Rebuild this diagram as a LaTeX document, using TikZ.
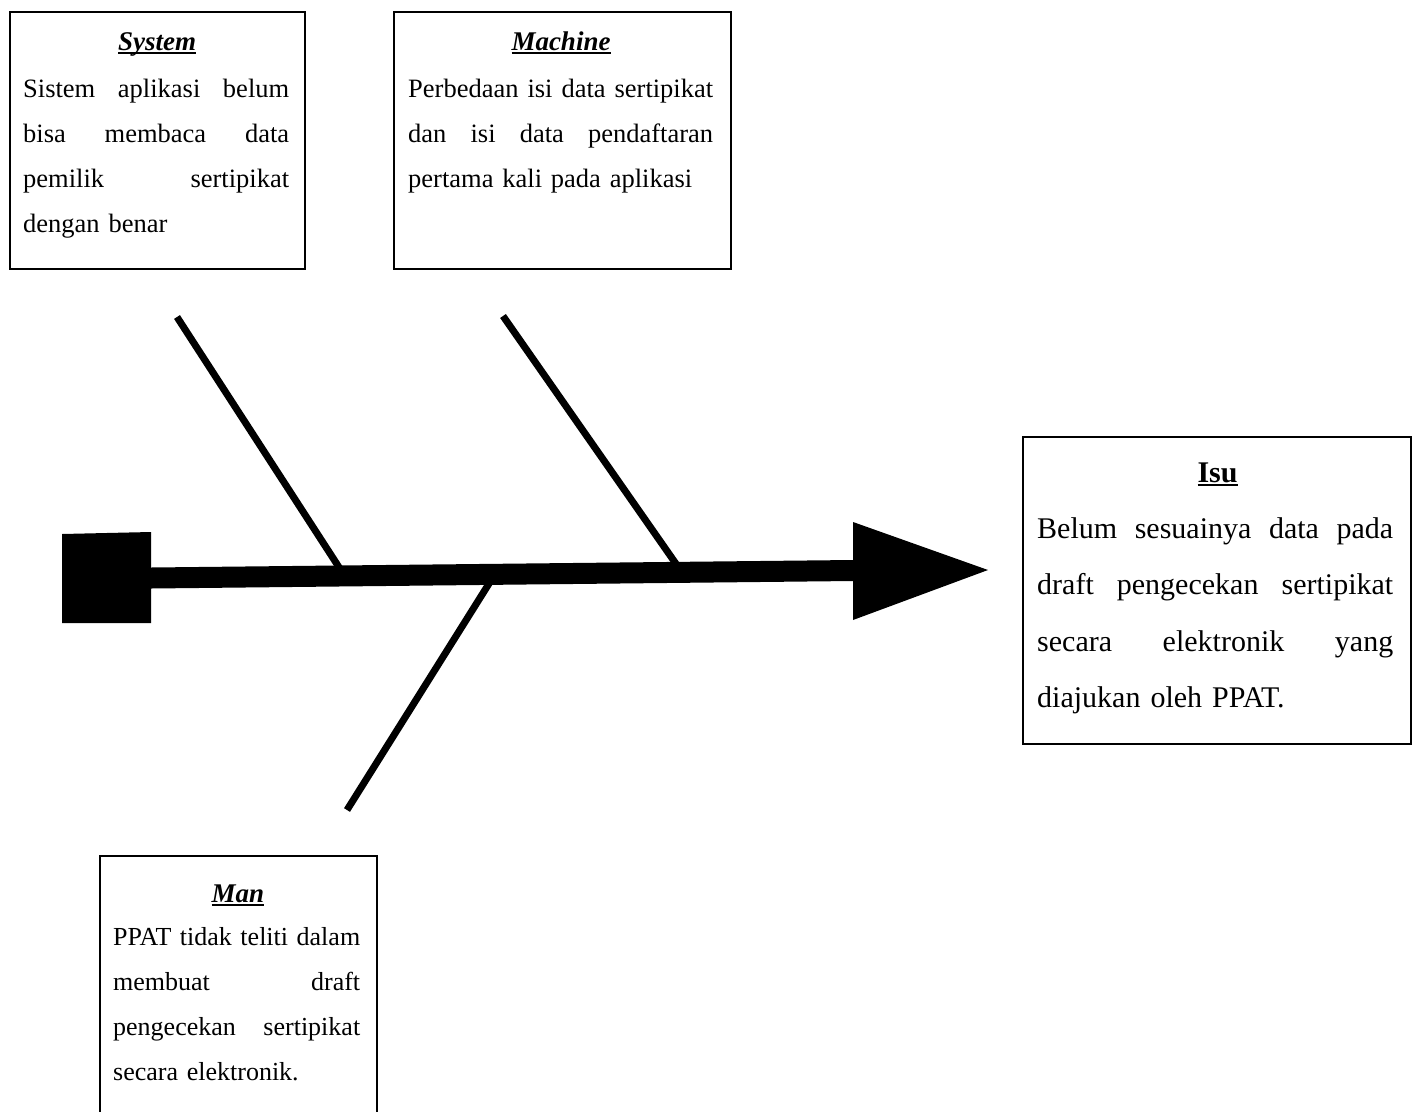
\documentclass[tikz,border=0pt]{standalone}
\usepackage{fontspec}
\setmainfont{Liberation Serif}
\newcommand\myul[1]{\setbox0\hbox{#1}\rlap{\rule[-3.5pt]{\wd0}{1.8pt}}\box0}
\newcommand\jl[2]{\leavevmode\hbox to #1{\spaceskip=0.25em plus 1fil minus 0.1em\relax #2}}
\tikzset{
  box/.style={draw, line width=2.3pt, rectangle, inner sep=0pt, anchor=north west},
  body/.style={anchor=base west, inner sep=0pt, align=left, font=\fontsize{26.5}{45}\selectfont},
  ttl/.style={anchor=base, inner sep=0pt, font=\fontsize{27}{32}\selectfont\bfseries\itshape},
  bone/.style={line width=7pt},
}
\begin{document}
\begin{tikzpicture}[x=1pt,y=-1pt]
\useasboundingbox (0,0) rectangle (1415,1111);

% boxes
\node[box, minimum width=295pt, minimum height=257pt] (sys) at (9,11) {};
\node[box, minimum width=337pt, minimum height=257pt] (mach) at (393,11) {};
\node[box, minimum width=277pt, minimum height=290pt] (man) at (99,855) {};
\node[box, minimum width=388pt, minimum height=307pt] (isu) at (1022,436) {};

% texts
\node[ttl] (systtl) at (157,50) {\myul{System}};
\node[body, text width=266pt] (systxt) at (23,97) {\jl{266pt}{Sistem aplikasi belum}\\ \jl{266pt}{bisa membaca data}\\ \jl{266pt}{pemilik sertipikat}\\ dengan benar};

\node[ttl] (machttl) at (561,50) {\myul{Machine}};
\node[body, text width=305pt] (machtxt) at (408,97) {\jl{305pt}{Perbedaan isi data sertipikat}\\ \jl{305pt}{dan isi data pendaftaran}\\ pertama kali pada aplikasi};

\node[ttl] (manttl) at (238,902) {\myul{Man}};
\node[body, text width=247pt, font=\fontsize{26}{45}\selectfont] (mantxt) at (113,945) {\jl{247pt}{PPAT tidak teliti dalam}\\ \jl{247pt}{membuat draft}\\ \jl{247pt}{pengecekan sertipikat}\\ secara elektronik.};

\node[ttl, font=\fontsize{30}{36}\selectfont\bfseries] (isuttl) at (1217.5,482) {\myul{Isu}};
\node[body, text width=356pt, font=\fontsize{30}{56.5}\selectfont] (isutxt) at (1037,538) {\jl{356pt}{Belum sesuainya data pada}\\ \jl{356pt}{draft pengecekan sertipikat}\\ \jl{356pt}{secara elektronik yang}\\ diajukan oleh PPAT.};

% spine
\coordinate (tail) at (151,578);
\coordinate (headbase) at (853,570.5);
\coordinate (tip) at (988,570);
\fill (62,534) -- (151,532) -- (151,623) -- (62,623) -- cycle;
\draw[line width=21pt] (tail) -- (headbase);
\fill (853,522) -- (tip) -- (853,620) -- cycle;

% bones
\coordinate (b1top) at (177,317);
\coordinate (b1foot) at (344,575);
\coordinate (b2top) at (503,316);
\coordinate (b2foot) at (681,571);
\coordinate (b3foot) at (495,574);
\coordinate (b3end) at (347,810);
\draw[bone] (b1top) -- (b1foot);
\draw[bone] (b2top) -- (b2foot);
\draw[bone] (b3foot) -- (b3end);
\end{tikzpicture}
\end{document}
